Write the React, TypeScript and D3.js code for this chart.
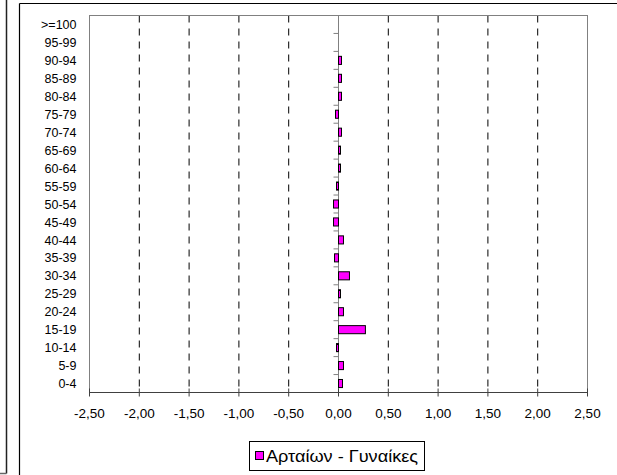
import React from "react";
import * as d3 from "d3";

const categories = ["0-4","5-9","10-14","15-19","20-24","25-29","30-34","35-39","40-44","45-49","50-54","55-59","60-64","65-69","70-74","75-79","80-84","85-89","90-94","95-99",">=100"];
const values = [0.04, 0.05, -0.02, 0.27, 0.05, 0.02, 0.11, -0.04, 0.05, -0.05, -0.05, -0.02, 0.02, 0.02, 0.03, -0.03, 0.03, 0.03, 0.03, 0, 0];
const xTicks = [-2.5, -2.0, -1.5, -1.0, -0.5, 0, 0.5, 1.0, 1.5, 2.0, 2.5];
const seriesName = "Αρταίων - Γυναίκες";

const W = 617, H = 475;
const PL = 89.5, PR = 587.5, PT = 15.5, PB = 392.5;
const FONT = "'Liberation Sans', Arial, sans-serif";

export default function App() {
  const x = d3.scaleLinear().domain([-2.5, 2.5]).range([PL, PR]);
  const y = d3.scaleBand<string>().domain([...categories].reverse()).range([PT, PB]).padding(0);
  const bw = y.bandwidth();
  const barH = bw * 0.45;
  const fmt = (v: number) => d3.format(".2f")(v).replace(".", ",").replace("−", "-");
  const boundaries = d3.range(categories.length + 1).map((i) => PT + i * bw);

  return (
    <div style={{ position: "fixed", left: 0, top: 0 }}>
      <svg width={W} height={H} style={{ display: "block", fontFamily: FONT }}>
        <rect x={0} y={0} width={W} height={H} fill="#fff" />
        {/* neighbour chart edge */}
        <line x1={6.5} y1={0} x2={6.5} y2={473.5} stroke="#222" strokeWidth={1.5} />
        <line x1={0} y1={473.5} x2={6.5} y2={473.5} stroke="#666" strokeWidth={1.5} />
        {/* chart frame */}
        <line x1={19.5} y1={3.5} x2={W + 2} y2={3.5} stroke="#000" strokeWidth={1.2} />
        <line x1={19.5} y1={3.5} x2={19.5} y2={H + 2} stroke="#000" strokeWidth={1.2} />

        {/* gridlines */}
        {xTicks.map((t) => (
          <line key={"g" + t} x1={x(t)} x2={x(t)} y1={PT} y2={PB} stroke="#000" strokeDasharray="7,6" strokeWidth={1} />
        ))}
        {/* plot border */}
        <line x1={PL} y1={PT} x2={PR} y2={PT} stroke="#808080" />
        <line x1={PL} y1={PT} x2={PL} y2={PB} stroke="#808080" />
        <line x1={PR} y1={PT} x2={PR} y2={PB} stroke="#808080" />

        {/* zero (category) axis */}
        <line x1={x(0)} x2={x(0)} y1={PT} y2={PB} stroke="#808080" />
        {boundaries.map((b, i) => (
          <line key={"ct" + i} x1={x(0) - 5} x2={x(0)} y1={b} y2={b} stroke="#808080" />
        ))}

        {/* bars */}
        {categories.map((c, i) => {
          const v = values[i];
          if (v === 0) return null;
          const x0 = x(Math.min(0, v));
          const x1 = x(Math.max(0, v));
          const yc = (y(c) as number) + bw / 2;
          return (
            <rect key={"b" + c} x={x0} y={yc - barH / 2} width={x1 - x0} height={barH} fill="#FF00FF" stroke="#000" strokeWidth={1} />
          );
        })}

        {/* x axis */}
        <line x1={PL} x2={PR} y1={PB} y2={PB} stroke="#404040" />
        {xTicks.map((t) => (
          <g key={"t" + t}>
            <line x1={x(t)} x2={x(t)} y1={PB - 4} y2={PB + 4} stroke="#404040" />
            <text x={x(t)} y={418} textAnchor="middle" fontSize={13.5} fill="#000">{fmt(t)}</text>
          </g>
        ))}

        {/* category labels */}
        {categories.map((c) => (
          <text key={"l" + c} x={76.5} y={(y(c) as number) + bw / 2} dy="0.37em" textAnchor="end" fontSize={12.5} fill="#000">{c}</text>
        ))}

        {/* legend */}
        <rect x={249.5} y={441.5} width={175} height={29} fill="#fff" stroke="#000" />
        <rect x={255.5} y={451.5} width={8} height={8} fill="#FF00FF" stroke="#000" />
        <text x={266} y={461.5} fontSize={16} textLength={152} lengthAdjust="spacingAndGlyphs" fill="#000">{seriesName}</text>
      </svg>
    </div>
  );
}
